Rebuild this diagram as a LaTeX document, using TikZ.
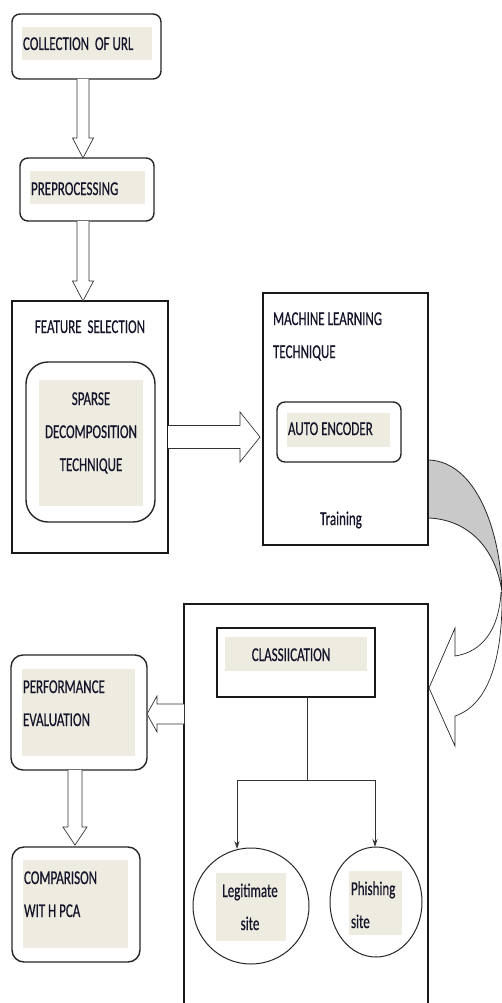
\documentclass[tikz,border=0pt]{standalone}
\usepackage{fontspec}
\usepackage{graphicx}
\setmainfont[FakeBold=0.7,AutoFakeBold=false]{Carlito}
\newfontfamily\boxfont[FakeBold=0.7]{Carlito}
\usetikzlibrary{calc,arrows.meta,shapes.geometric}
\definecolor{beige}{HTML}{EEECE1}
\definecolor{arrowgray}{HTML}{C9C9C9}
\definecolor{txtcol}{HTML}{14142A}
\newcommand{\tx}[2][l]{\scalebox{1}[1.5]{\begin{tabular}[t]{@{}#1@{}}#2\end{tabular}}}
% vertical block arrow: #1 start, #2 tip, #3 shaft half, #4 head half, #5 head length
\newcommand{\dblock}[5]{\draw[blk] let \p1=#1, \p2=#2 in
  (\x2-#3pt,\y1) -- (\x2-#3pt,\y2+#5pt) -- (\x2-#4pt,\y2+#5pt) -- (\x2,\y2)
  -- (\x2+#4pt,\y2+#5pt) -- (\x2+#3pt,\y2+#5pt) -- (\x2+#3pt,\y1);}
\newcommand{\rblock}[5]{\draw[blk] let \p1=#1, \p2=#2 in
  (\x1,\y2+#3pt) -- (\x2-#5pt,\y2+#3pt) -- (\x2-#5pt,\y2+#4pt) -- (\x2,\y2)
  -- (\x2-#5pt,\y2-#4pt) -- (\x2-#5pt,\y2-#3pt) -- (\x1,\y2-#3pt);}
\newcommand{\lblock}[5]{\draw[blk] let \p1=#1, \p2=#2 in
  (\x1,\y2+#3pt) -- (\x2+#5pt,\y2+#3pt) -- (\x2+#5pt,\y2+#4pt) -- (\x2,\y2)
  -- (\x2+#5pt,\y2-#4pt) -- (\x2+#5pt,\y2-#3pt) -- (\x1,\y2-#3pt);}
\begin{document}
\begin{tikzpicture}[x=1pt,y=1pt,
  rbox/.style={draw=black!85, line width=1.4pt, rounded corners=#1, inner sep=0pt, outer sep=0pt, anchor=north west},
  rbox/.default=8pt,
  sbox/.style={draw=black!90, line width=1.1pt, inner sep=0pt, outer sep=0pt, anchor=north west},
  bg/.style={fill=beige, inner sep=0pt, outer sep=0pt, anchor=north west},
  lbl/.style={inner sep=0pt, outer sep=0pt, font=\boxfont\fontsize{13}{22}\selectfont, text=txtcol},
  blk/.style={draw=black!80, line width=0.7pt, fill=white, line join=miter},
  tree/.style={draw=black!80, line width=0.9pt},
  circ/.style={draw=black!85, line width=1pt, inner sep=0pt, outer sep=0pt},
]
\clip (0,0) rectangle (502,-1003);
\fill[white] (0,0) rectangle (502,-1003);

% Collection of URL
\node[rbox, minimum width=149pt, minimum height=65pt] (col) at (12,-14) {};
\node[bg, minimum width=130pt, minimum height=33pt] (colbg) at (22,-27) {};
\node[lbl, anchor=base west] (coltx) at (23,-50) {\tx{COLLECTION\ \ OF URL}};

% Preprocessing
\node[rbox, minimum width=134pt, minimum height=63pt] (pre) at (20,-158) {};
\node[bg, minimum width=115pt, minimum height=33pt] (prebg) at (30,-171) {};
\node[lbl, anchor=base west] (pretx) at (31,-195) {\tx{PREPROCESSING}};

% Feature selection
\node[sbox, minimum width=156pt, minimum height=252pt] (feat) at (12,-301) {};
\node[lbl, anchor=base] (feattx) at (90,-333) {\tx{FEATURE\ \ SELECTION}};
\node[rbox=22pt, minimum width=129pt, minimum height=160pt] (sp) at (26,-362) {};
\node[bg, minimum width=104pt, minimum height=126pt] (spbg) at (39,-380) {};
\node[lbl, anchor=base] (sptx) at (91,-405) {\tx[c]{SPARSE\\DECOMPOSITION\\TECHNIQUE}};

% Machine learning
\node[sbox, minimum width=165pt, minimum height=252pt] (ml) at (263,-293) {};
\node[lbl, anchor=base west] (mltx) at (273,-325) {\tx{MACHINE LEARNING\\TECHNIQUE}};
\node[rbox=8pt, minimum width=124pt, minimum height=60pt] (ae) at (277,-402) {};
\node[bg, minimum width=103pt, minimum height=34pt] (aebg) at (287,-413) {};
\node[lbl, anchor=base west] (aetx) at (288,-435) {\tx{AUTO ENCODER}};
\node[lbl, anchor=base] (train) at (341,-525) {\tx{Training}};

% Classification container
\node[sbox, minimum width=244pt, minimum height=420pt] (cont) at (184,-604) {};
\node[sbox, line width=1.4pt, minimum width=158pt, minimum height=69pt] (cls) at (217,-628) {};
\node[bg, minimum width=142pt, minimum height=34pt] (clsbg) at (225,-637) {};
\node[lbl, anchor=base] (clstx) at (291,-661) {\tx{CLASSIICATION}};

% Leaves
\node[circ, circle, minimum size=116pt] (leg) at (251,-906) {};
\node[bg, minimum width=70pt, minimum height=68pt] (legbg) at (216,-873) {};
\node[lbl, anchor=base] (legtx) at (250,-897) {\tx[c]{Legitimate\\site}};
\node[circ, ellipse, minimum width=92pt, minimum height=110pt] (phi) at (376,-902) {};
\node[bg, minimum width=53pt, minimum height=64pt] (phibg) at (349,-871) {};
\node[lbl, anchor=base west] (phitx) at (351,-895) {\tx{Phishing\\site}};

\draw[tree] ($(cls.south)+(11,0)$) -- ++(0,-83) coordinate (j);
\draw[tree,-{Stealth[length=8pt,width=5pt]}] (j) -| ($(leg.north)+(-14,-1)$);
\draw[tree,-{Stealth[length=8pt,width=5pt]}] ($(j)+(-0.45,0)$) -| ($(phi.north)+(-1,0)$);

% Performance & comparison
\node[rbox=12pt, minimum width=136pt, minimum height=115pt] (perf) at (11,-655) {};
\node[bg, minimum width=113pt, minimum height=87pt] (perfbg) at (22,-669) {};
\node[lbl, anchor=base west] (perftx) at (23,-693) {\tx{PERFORMANCE\\EVALUATION}};
\node[rbox=12pt, minimum width=128pt, minimum height=115pt] (comp) at (12,-847) {};
\node[bg, minimum width=105pt, minimum height=88pt] (compbg) at (23,-860) {};
\node[lbl, anchor=base west] (comptx) at (24,-884) {\tx{COMPARISON\\WIT H PCA}};

% Block arrows
\dblock{(col.south)}{($(pre.north)+(-4,0)$)}{6}{10.5}{20}
\dblock{(pre.south)}{($(feat.north)+(-7,0)$)}{6}{10.5}{20}
\rblock{(feat.east)}{($(ml.west)+(-3,-18)$)}{11.5}{25}{20}
\lblock{(cont.west)}{($(perf.east)+(0,-1.5)$)}{10}{18}{10}
\dblock{(perf.south)}{($(comp.north)+(-1,2)$)}{7}{12}{18}

% Curved arrow from training to classification
\coordinate (ca) at ($(ml.south east)+(1,85)$);
\coordinate (cb) at ($(ml.south east)+(1,27)$);
\coordinate (ct) at ($(cont.north east)+(1,-84)$);
\filldraw[fill=arrowgray, draw=black!85, line width=0.8pt]
  (ca) .. controls (476,-462) and (500,-530) .. (502,-592)
  .. controls (496,-550) and (470,-520) .. (cb);
\filldraw[fill=white, draw=black!85, line width=0.7pt, line join=miter]
  (501,-592) .. controls (499,-630) and (482,-652) .. (455,-656)
  -- (455,-628) -- (ct) -- (455,-746) -- (455,-716)
  .. controls (488,-705) and (503,-660) .. (502,-592);
\end{tikzpicture}
\end{document}
